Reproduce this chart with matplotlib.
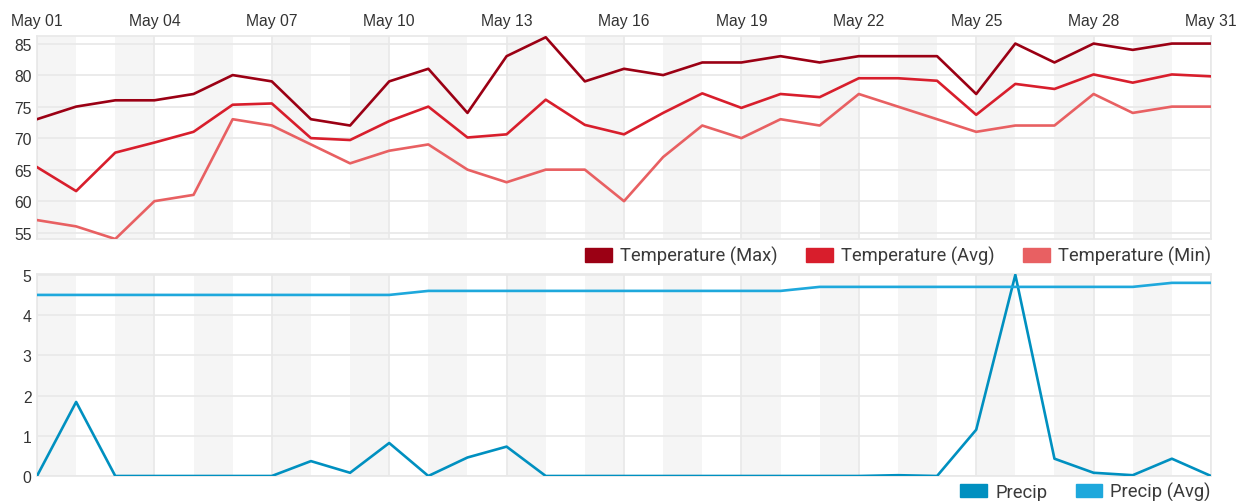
import matplotlib
matplotlib.use("Agg")
import matplotlib.pyplot as plt
from matplotlib.patches import Patch
import numpy as np
import pandas as pd

days = pd.date_range("2020-05-01", "2020-05-31", freq="D")
day_labels = [d.strftime("%b %d") for d in days]

temp_max = [73, 75, 76, 76, 77, 80, 79, 73, 72, 79,
            81, 74, 83, 86, 79, 81, 80, 82, 82, 83,
            82, 83, 83, 83, 77, 85, 82, 85, 84, 85, 85]
temp_avg = [65.4, 61.6, 67.7, 69.3, 71.0, 75.3, 75.5, 70.0, 69.7, 72.7,
            75.0, 70.1, 70.6, 76.1, 72.1, 70.6, 74.0, 77.1, 74.8, 77.0,
            76.5, 79.5, 79.5, 79.1, 73.7, 78.6, 77.8, 80.1, 78.8, 80.1, 79.8]
temp_min = [57, 56, 54, 60, 61, 73, 72, 69, 66, 68,
            69, 65, 63, 65, 65, 60, 67, 72, 70, 73,
            72, 77, 75, 73, 71, 72, 72, 77, 74, 75, 75]
precip = [0, 1.84, 0, 0, 0, 0, 0, 0.37, 0.08, 0.82,
          0, 0.46, 0.73, 0, 0, 0, 0, 0, 0, 0,
          0, 0, 0.02, 0, 1.15, 5.0, 0.43, 0.08, 0.02, 0.43, 0]
precip_avg = [4.5] * 10 + [4.6] * 10 + [4.7] * 9 + [4.8] * 2

c_max, c_avg, c_min = "#9b0014", "#d81e2c", "#e86062"
c_pr, c_pr_avg = "#0090c0", "#1ea8dc"
grid_c = "#e8e8e8"
band_c = "#f5f5f5"
text_c = "#333333"

x = np.arange(len(days))

fig = plt.figure(figsize=(12.45, 5.02), dpi=100)
ax1 = fig.add_axes([37 / 1245, 1 - 240 / 502, 1174 / 1245, 203 / 502])
ax2 = fig.add_axes([37 / 1245, 1 - 477 / 502, 1174 / 1245, 202 / 502])


def style_axes(ax, yticks, ylim):
    # alternating day shading
    for i in range(0, len(x) - 1, 2):
        ax.axvspan(i, i + 1, color=band_c, lw=0, zorder=0)
    ax.set_xlim(0, len(x) - 1)
    ax.set_ylim(*ylim)
    ax.set_xticks(x[::3])
    ax.set_yticks(yticks)
    ax.grid(True, color=grid_c, lw=1.2, zorder=1)
    ax.set_axisbelow(True)
    for s in ax.spines.values():
        s.set_color(grid_c)
        s.set_linewidth(1.2)
    ax.tick_params(length=0, labelsize=11.3, colors=text_c, pad=4)
    for lab in ax.get_yticklabels():
        lab.set_family("Liberation Sans")


style_axes(ax1, [55, 60, 65, 70, 75, 80, 85], (54, 86.2))
ax1.xaxis.tick_top()
ax1.tick_params(axis="x", pad=6)
ax1.set_xticklabels(day_labels[::3], family="Liberation Sans")
ax1.plot(x, temp_max, color=c_max, lw=1.9, zorder=3)
ax1.plot(x, temp_avg, color=c_avg, lw=1.9, zorder=3)
ax1.plot(x, temp_min, color=c_min, lw=1.9, zorder=3)

style_axes(ax2, [0, 1, 2, 3, 4, 5], (0, 5.02))
ax2.set_xticklabels([])
ax2.plot(x, precip, color=c_pr, lw=1.9, zorder=3)
ax2.plot(x, precip_avg, color=c_pr_avg, lw=1.9, zorder=3)

leg_kw = dict(ncol=3, frameon=False, handlelength=1.45, handleheight=0.78,
              handletextpad=0.45, columnspacing=1.55, borderaxespad=0,
              borderpad=0, prop={"family": "Roboto", "size": 13.2},
              labelcolor="#3a3a3a")
ax1.legend([Patch(color=c_max), Patch(color=c_avg), Patch(color=c_min)],
           ["Temperature (Max)", "Temperature (Avg)", "Temperature (Min)"],
           loc="upper right", bbox_to_anchor=(1.0, -0.035), **leg_kw)
leg_kw["ncol"] = 2
ax2.legend([Patch(color=c_pr), Patch(color=c_pr_avg)],
           ["Precip", "Precip (Avg)"],
           loc="upper right", bbox_to_anchor=(1.0, -0.03), **leg_kw)

fig.savefig("out.png", dpi=100)
